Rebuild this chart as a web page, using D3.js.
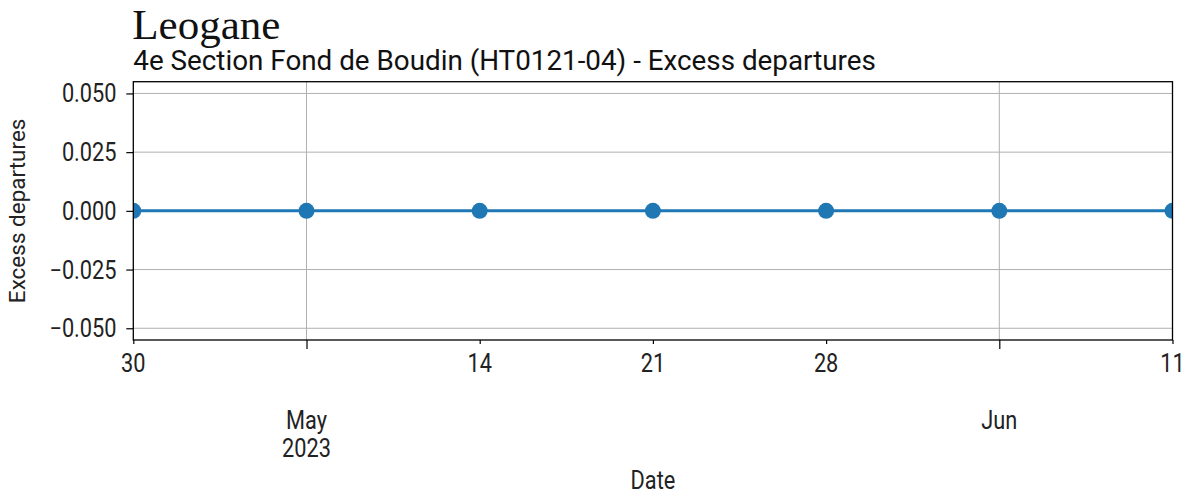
<!DOCTYPE html>
<html><head><meta charset="utf-8">
<script src="https://cdn.jsdelivr.net/npm/d3@7"></script>
<style>body{margin:0;background:#fff}svg{display:block}</style>
</head><body>
<svg id="c" width="1190" height="497"></svg>
<script>
const dates = ["2023-04-30","2023-05-07","2023-05-14","2023-05-21","2023-05-28","2023-06-04","2023-06-11"];
const values = [0,0,0,0,0,0,0];
const yTicks = [-0.05,-0.025,0,0.025,0.05];
const minorTicks = ["2023-04-30","2023-05-14","2023-05-21","2023-05-28","2023-06-11"];
const minorLabels = ["30","14","21","28","11"];
const majorTicks = ["2023-05-07","2023-06-04"];
const majorLabels = [["May","2023"],["Jun"]];
const title = "Leogane";
const subtitle = "4e Section Fond de Boudin (HT0121-04) - Excess departures";

const parse = d3.utcParse("%Y-%m-%d");
const svg = d3.select("#c");
const L=133.3, R=1172.5, T=81.7, B=340;
const x = d3.scaleUtc().domain([parse(dates[0]), parse(dates[dates.length-1])]).range([L,R]);
const y = d3.scaleLinear().domain([-0.055,0.055]).range([B,T]);
const font = "Roboto, sans-serif";
const SX = 0.87;

function label(px, py, txt, anchor, size, sx){
  return svg.append("text").attr("transform",`translate(${px},${py}) scale(${sx},1)`)
    .attr("text-anchor",anchor).attr("font-family",font).attr("font-size",size)
    .attr("fill","#222").text(txt);
}

// grid
svg.append("g").selectAll("line").data(yTicks).join("line")
  .attr("x1",L).attr("x2",R).attr("y1",d=>y(d)).attr("y2",d=>y(d))
  .attr("stroke","#b0b0b0").attr("stroke-width",1);
svg.append("g").selectAll("line").data(majorTicks).join("line")
  .attr("x1",d=>x(parse(d))).attr("x2",d=>x(parse(d))).attr("y1",T).attr("y2",B)
  .attr("stroke","#b0b0b0").attr("stroke-width",1);

// data
svg.append("defs").append("clipPath").attr("id","clip").append("rect")
  .attr("x",L).attr("y",T).attr("width",R-L).attr("height",B-T);
const g = svg.append("g").attr("clip-path","url(#clip)");
const pts = dates.map((d,i)=>({d:parse(d),v:values[i]}));
g.append("path").datum(pts).attr("fill","none").attr("stroke","#1f77b4").attr("stroke-width",3)
  .attr("d",d3.line().x(p=>x(p.d)).y(p=>y(p.v)));
g.selectAll("circle").data(pts).join("circle")
  .attr("cx",p=>x(p.d)).attr("cy",p=>y(p.v)).attr("r",8).attr("fill","#1f77b4");

// frame
svg.append("rect").attr("x",L).attr("y",T).attr("width",R-L).attr("height",B-T)
  .attr("fill","none").attr("stroke","#000").attr("stroke-width",1.3);

// y axis ticks
const ya = svg.append("g").attr("transform",`translate(${L},0)`)
  .call(d3.axisLeft(y).tickValues(yTicks).tickSize(7).tickFormat(""));
ya.select(".domain").remove();
ya.selectAll("line").attr("stroke","#000").attr("stroke-width",1.2);
yTicks.forEach(v=>{
  label(116.5, y(v), d3.format(".3f")(v).replace("-","\u2212"), "end", 25, SX).attr("dy","0.36em");
});

// x minor ticks
const xa = svg.append("g").attr("transform",`translate(0,${B})`)
  .call(d3.axisBottom(x).tickValues(minorTicks.map(parse)).tickSize(4).tickFormat(""));
xa.select(".domain").remove();
xa.selectAll("line").attr("stroke","#000").attr("stroke-width",1.2);
minorTicks.forEach((d,i)=>label(x(parse(d)), 372, minorLabels[i], "middle", 25, SX));

// x major ticks
const xb = svg.append("g").attr("transform",`translate(0,${B})`)
  .call(d3.axisBottom(x).tickValues(majorTicks.map(parse)).tickSize(9).tickFormat(""));
xb.select(".domain").remove();
xb.selectAll("line").attr("stroke","#000").attr("stroke-width",1.2);
majorTicks.forEach((d,i)=>{
  majorLabels[i].forEach((s,j)=>label(x(parse(d)), 429 + j*28, s, "middle", 25, SX));
});

// axis labels
label((L+R)/2, 489, "Date", "middle", 25, SX);
svg.append("text").attr("transform",`translate(25,${(T+B)/2}) rotate(-90)`).attr("text-anchor","middle")
  .attr("font-family",font).attr("font-size",22.5).attr("fill","#222").text("Excess departures");

// titles
svg.append("text").attr("x",L-1).attr("y",38.5).attr("font-family","'Liberation Serif', serif")
  .attr("font-size",43).attr("fill","#111").text(title);
svg.append("text").attr("x",L).attr("y",70).attr("font-family",font)
  .attr("font-size",27.8).attr("fill","#111").text(subtitle);
</script>
</body></html>
